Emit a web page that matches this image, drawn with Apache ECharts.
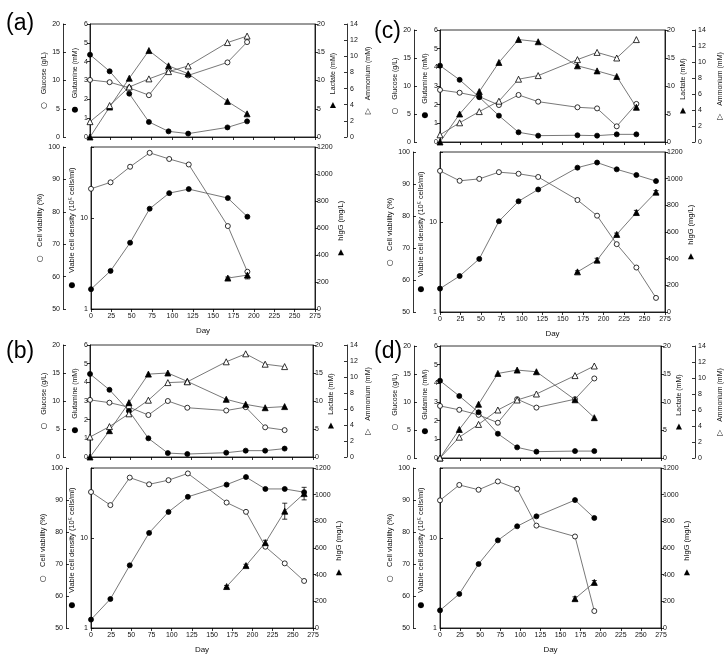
<!DOCTYPE html>
<html><head><meta charset="utf-8">
<script src="https://cdn.jsdelivr.net/npm/echarts@6/dist/echarts.min.js"></script>
<style>html,body{margin:0;padding:0;background:#fff}#c{width:726px;height:657px}</style>
</head><body><div id="c"></div>
<script>
// ---------- DATA ----------
const days = [0, 24, 48, 72, 96, 120, 168, 192, 216, 240, 264];
const igDays = [168, 192, 216, 240, 264];

// (a)
const aGlucose   = [10.1, 9.7, 8.7, 7.4, 11.8, 10.9, 13.2, 16.8];
const aGlutamine = [4.37, 3.49, 2.30, 0.80, 0.30, 0.18, 0.51, 0.83];
const aLactate   = [0, 5.3, 10.4, 15.3, 12.6, 11.2, 6.3, 4.1];
const aAmmonium  = [1.9, 3.9, 6.2, 7.2, 8.1, 8.8, 11.7, 12.5];
const aViability = [87.1, 89.1, 93.9, 98.2, 96.3, 94.6, 75.6, 61.5];
const aVCD       = [1.65, 2.62, 5.34, 12.6, 18.7, 20.7, 16.5, 10.3];
const aIgG       = [229, 251];
const aIgGErr    = [8, 28];

// (b)
const bGlucose   = [10.2, 9.7, 8.9, 7.5, 10.0, 8.8, 8.3, 8.9, 5.3, 4.8];
const bGlutamine = [4.45, 3.60, 2.47, 1.00, 0.21, 0.16, 0.23, 0.34, 0.34, 0.45];
const bLactate   = [0, 4.7, 9.7, 14.8, 15.0, 13.5, 10.3, 9.4, 8.8, 9.0];
const bAmmonium  = [2.5, 3.8, 5.4, 7.1, 9.3, 9.4, 11.9, 12.9, 11.6, 11.3];
const bViability = [92.5, 88.4, 97.0, 94.9, 96.2, 98.3, 89.2, 86.3, 75.4, 70.2, 64.7];
const bVCD       = [1.24, 2.10, 4.97, 11.4, 19.5, 28.7, 39.2, 47.6, 35.1, 35.1, 32.3];
const bIgG       = [311, 468, 640, 876, 1008];
const bIgGErr    = [8, 10, 18, 60, 47];

// (c)
const cGlucose   = [9.3, 8.8, 8.1, 6.6, 8.4, 7.2, 6.2, 6.0, 2.8, 6.8];
const cGlutamine = [4.09, 3.33, 2.40, 1.41, 0.52, 0.34, 0.36, 0.34, 0.41, 0.41];
const cLactate   = [0, 5.0, 9.0, 14.2, 18.3, 17.9, 13.6, 12.7, 11.7, 6.2];
const cAmmonium  = [0.9, 2.4, 3.8, 5.1, 7.85, 8.3, 10.3, 11.2, 10.5, 12.8];
const cViability = [94.1, 91.0, 91.6, 93.7, 93.2, 92.2, 85.0, 80.1, 71.2, 63.9, 54.4];
const cVCD       = [1.82, 2.51, 3.89, 10.2, 17.0, 23.0, 40.2, 45.8, 38.5, 33.3, 28.5];
const cIgG       = [301, 389, 582, 746, 899];
const cIgGErr    = [8, 14, 10, 16, 12];

// (d)
const dGlucose   = [9.3, 8.6, 7.7, 6.3, 10.5, 9.0, 10.5, 14.2];
const dGlutamine = [4.14, 3.32, 2.45, 1.30, 0.57, 0.34, 0.37, 0.37];
const dLactate   = [0, 5.1, 9.6, 15.1, 15.7, 15.4, 10.4, 7.2];
const dAmmonium  = [0, 2.6, 4.2, 6.0, 7.25, 8.0, 10.3, 11.5];
const dViability = [89.9, 94.7, 93.2, 95.8, 93.5, 82.0, 78.6, 55.3];
const dVCD       = [1.57, 2.39, 5.14, 9.42, 13.5, 17.4, 26.4, 16.7];
const dIgG       = [220, 342];
const dIgGErr    = [14, 14];

// ---------- BUILD ----------
const FONT = '"Liberation Sans", Arial, "DejaVu Sans", sans-serif';
const INK = '#111';
const grid = [], xAxis = [], yAxis = [], series = [], title = [];

function pts(d, v) { return v.map((y, i) => [d[i], y]); }

function xAx(gi, labels, withName) {
  return {
    gridIndex: gi, type: 'value', min: 0, max: 275, interval: 25,
    axisLine: { show: true, onZero: false, lineStyle: { color: '#000', width: 0.8 } },
    axisTick: { show: true, length: 3, lineStyle: { color: '#000', width: 0.8 } },
    axisLabel: { show: labels, fontSize: 7, fontFamily: FONT, color: INK, margin: 4, formatter: v => String(v) },
    splitLine: { show: false },
    name: withName ? 'Day' : '', nameLocation: 'middle', nameGap: 18,
    nameTextStyle: { fontSize: 8, fontFamily: FONT, color: INK }
  };
}

function yAx(gi, o) {
  const a = {
    gridIndex: gi, type: o.type || 'value', min: o.min, max: o.max,
    position: o.position, offset: o.offset,
    name: o.name, nameLocation: 'middle', nameRotate: 90, nameGap: o.nameGap,
    nameTextStyle: { fontSize: o.nfs || 7, fontFamily: FONT, color: INK,
      rich: { m: { fontSize: 8, fontFamily: '"DejaVu Sans", sans-serif', color: '#000' } } },
    axisLine: { show: true, onZero: false, lineStyle: { color: '#000', width: 0.8 } },
    axisTick: { show: true, inside: !!o.inside, length: 3, lineStyle: { color: '#000', width: 0.8 } },
    axisLabel: { show: true, fontSize: 7, fontFamily: FONT, color: INK, margin: o.inside ? 3 : 2, formatter: v => String(v) },
    splitLine: { show: false }
  };
  if (o.interval !== undefined) a.interval = o.interval;
  if (o.type === 'log') {
    a.logBase = 10;
    a.axisLabel.formatter = v => (Math.abs(v - 1) < 1e-6 || Math.abs(v - 10) < 1e-6) ? String(Math.round(v)) : '';
  }
  return a;
}

function ls(xi, yi, data, symbol, filled) {
  return {
    type: 'line', xAxisIndex: xi, yAxisIndex: yi, data, symbol,
    symbolSize: symbol === 'triangle' ? 6 : 5, showSymbol: true,
    lineStyle: { color: '#555', width: 0.8 },
    itemStyle: { color: filled ? '#000' : '#fff', borderColor: '#000', borderWidth: 0.8 },
    z: 3
  };
}

function errSeries(xi, yi, d, m, e) {
  return {
    type: 'custom', xAxisIndex: xi, yAxisIndex: yi, silent: true, z: 2,
    encode: { x: 0, y: [1, 2] },
    data: m.map((v, i) => [d[i], v - e[i], v + e[i]]),
    renderItem: (params, api) => {
      const x = api.value(0);
      const lo = api.coord([x, api.value(1)]);
      const hi = api.coord([x, api.value(2)]);
      const w = 2.5, st = { stroke: '#000', lineWidth: 0.8 };
      return { type: 'group', children: [
        { type: 'line', shape: { x1: lo[0], y1: lo[1], x2: hi[0], y2: hi[1] }, style: st },
        { type: 'line', shape: { x1: lo[0] - w, y1: lo[1], x2: lo[0] + w, y2: lo[1] }, style: st },
        { type: 'line', shape: { x1: hi[0] - w, y1: hi[1], x2: hi[0] + w, y2: hi[1] }, style: st }
      ] };
    }
  };
}

function addPanel(p) {
  title.push({ text: p.label, left: p.labelPos[0], top: p.labelPos[1], padding: 0,
    textStyle: { fontSize: 23, fontWeight: 'normal', fontFamily: FONT, color: '#000' } });

  // top subplot
  const gt = grid.length;
  grid.push(Object.assign({ show: true, borderColor: '#000', borderWidth: 0.8, backgroundColor: 'transparent' }, p.top));
  const xt = xAxis.length; xAxis.push(xAx(gt, false, false));
  const yt = yAxis.length;
  yAxis.push(yAx(gt, { min: 0, max: 6, interval: 1, position: 'left', offset: 0, name: '{m|\u25CF}    Glutamine (mM)', nameGap: p.g.gln }));
  yAxis.push(yAx(gt, { min: 0, max: 20, interval: 5, position: 'left', offset: p.glcOff, inside: true, name: '{m|\u25CB}    Glucose (g/L)', nameGap: p.g.glc }));
  yAxis.push(yAx(gt, { min: 0, max: 20, interval: 5, position: 'right', offset: 0, name: '{m|\u25B6}    Lactate (mM)', nameGap: p.g.lac }));
  yAxis.push(yAx(gt, { min: 0, max: 14, interval: 2, position: 'right', offset: p.ammOff, inside: true, name: '{m|\u25B7}    Ammonium (mM)', nameGap: p.g.amm }));
  series.push(ls(xt, yt + 1, pts(days, p.glucose), 'circle', false));
  series.push(ls(xt, yt, pts(days, p.glutamine), 'circle', true));
  series.push(ls(xt, yt + 2, pts(days, p.lactate), 'triangle', true));
  series.push(ls(xt, yt + 3, pts(days, p.ammonium), 'triangle', false));

  // bottom subplot
  const gb = grid.length;
  grid.push(Object.assign({ show: true, borderColor: '#000', borderWidth: 0.8, backgroundColor: 'transparent' }, p.bot));
  const xb = xAxis.length; xAxis.push(xAx(gb, true, true));
  const yb = yAxis.length;
  yAxis.push(yAx(gb, { type: 'log', min: 1, max: 60, position: 'left', offset: 0, inside: true, name: '{m|\u25CF}    Viable cell density (10\u2075 cells/ml)', nameGap: p.g.vcd, nfs: 7.5 }));
  yAxis.push(yAx(gb, { min: 50, max: 100, interval: 10, position: 'left', offset: p.viaOff, inside: true, name: '{m|\u25CB}    Cell viability (%)', nameGap: p.g.via, nfs: 7.5 }));
  yAxis.push(yAx(gb, { min: 0, max: 1200, interval: 200, position: 'right', offset: 0, name: '{m|\u25B6}    hIgG (mg/L)', nameGap: p.g.igg, nfs: 7.5 }));
  series.push(ls(xb, yb + 1, pts(days, p.viability), 'circle', false));
  series.push(ls(xb, yb, pts(days, p.vcd), 'circle', true));
  series.push(errSeries(xb, yb + 2, igDays, p.igg, p.iggErr));
  series.push(ls(xb, yb + 2, pts(igDays, p.igg), 'triangle', true));
}

addPanel({ label: '(a)', labelPos: [6, 12],
  top: { left: 90, top: 24, width: 225, height: 113 }, bot: { left: 91, top: 147, width: 224, height: 162 },
  glcOff: 27, ammOff: 32, viaOff: 28,
  g: { gln: 11, glc: 14, lac: 12, amm: 17, vcd: 12, via: 16, igg: 21 },
  glucose: aGlucose, glutamine: aGlutamine, lactate: aLactate, ammonium: aAmmonium,
  viability: aViability, vcd: aVCD, igg: aIgG, iggErr: aIgGErr });

addPanel({ label: '(b)', labelPos: [6, 340],
  top: { left: 90, top: 345, width: 223, height: 112 }, bot: { left: 91, top: 468, width: 222, height: 160 },
  glcOff: 27, ammOff: 34, viaOff: 25,
  g: { gln: 11, glc: 14, lac: 12, amm: 17, vcd: 12, via: 16, igg: 21 },
  glucose: bGlucose, glutamine: bGlutamine, lactate: bLactate, ammonium: bAmmonium,
  viability: bViability, vcd: bVCD, igg: bIgG, iggErr: bIgGErr });

addPanel({ label: '(c)', labelPos: [374, 20],
  top: { left: 440, top: 30, width: 225, height: 112 }, bot: { left: 440, top: 152, width: 225, height: 160 },
  glcOff: 26, ammOff: 30, viaOff: 27,
  g: { gln: 11, glc: 14, lac: 13, amm: 21, vcd: 11, via: 14, igg: 19 },
  glucose: cGlucose, glutamine: cGlutamine, lactate: cLactate, ammonium: cAmmonium,
  viability: cViability, vcd: cVCD, igg: cIgG, iggErr: cIgGErr });

addPanel({ label: '(d)', labelPos: [374, 340],
  top: { left: 440, top: 346, width: 221, height: 112 }, bot: { left: 440, top: 468, width: 221, height: 160 },
  glcOff: 26, ammOff: 34, viaOff: 27,
  g: { gln: 11, glc: 14, lac: 13, amm: 21, vcd: 11, via: 14, igg: 19 },
  glucose: dGlucose, glutamine: dGlutamine, lactate: dLactate, ammonium: dAmmonium,
  viability: dViability, vcd: dVCD, igg: dIgG, iggErr: dIgGErr });

const chart = echarts.init(document.getElementById('c'), null, { renderer: 'canvas' });
chart.setOption({ animation: false, backgroundColor: '#fff', title, grid, xAxis, yAxis, series });
</script></body></html>
